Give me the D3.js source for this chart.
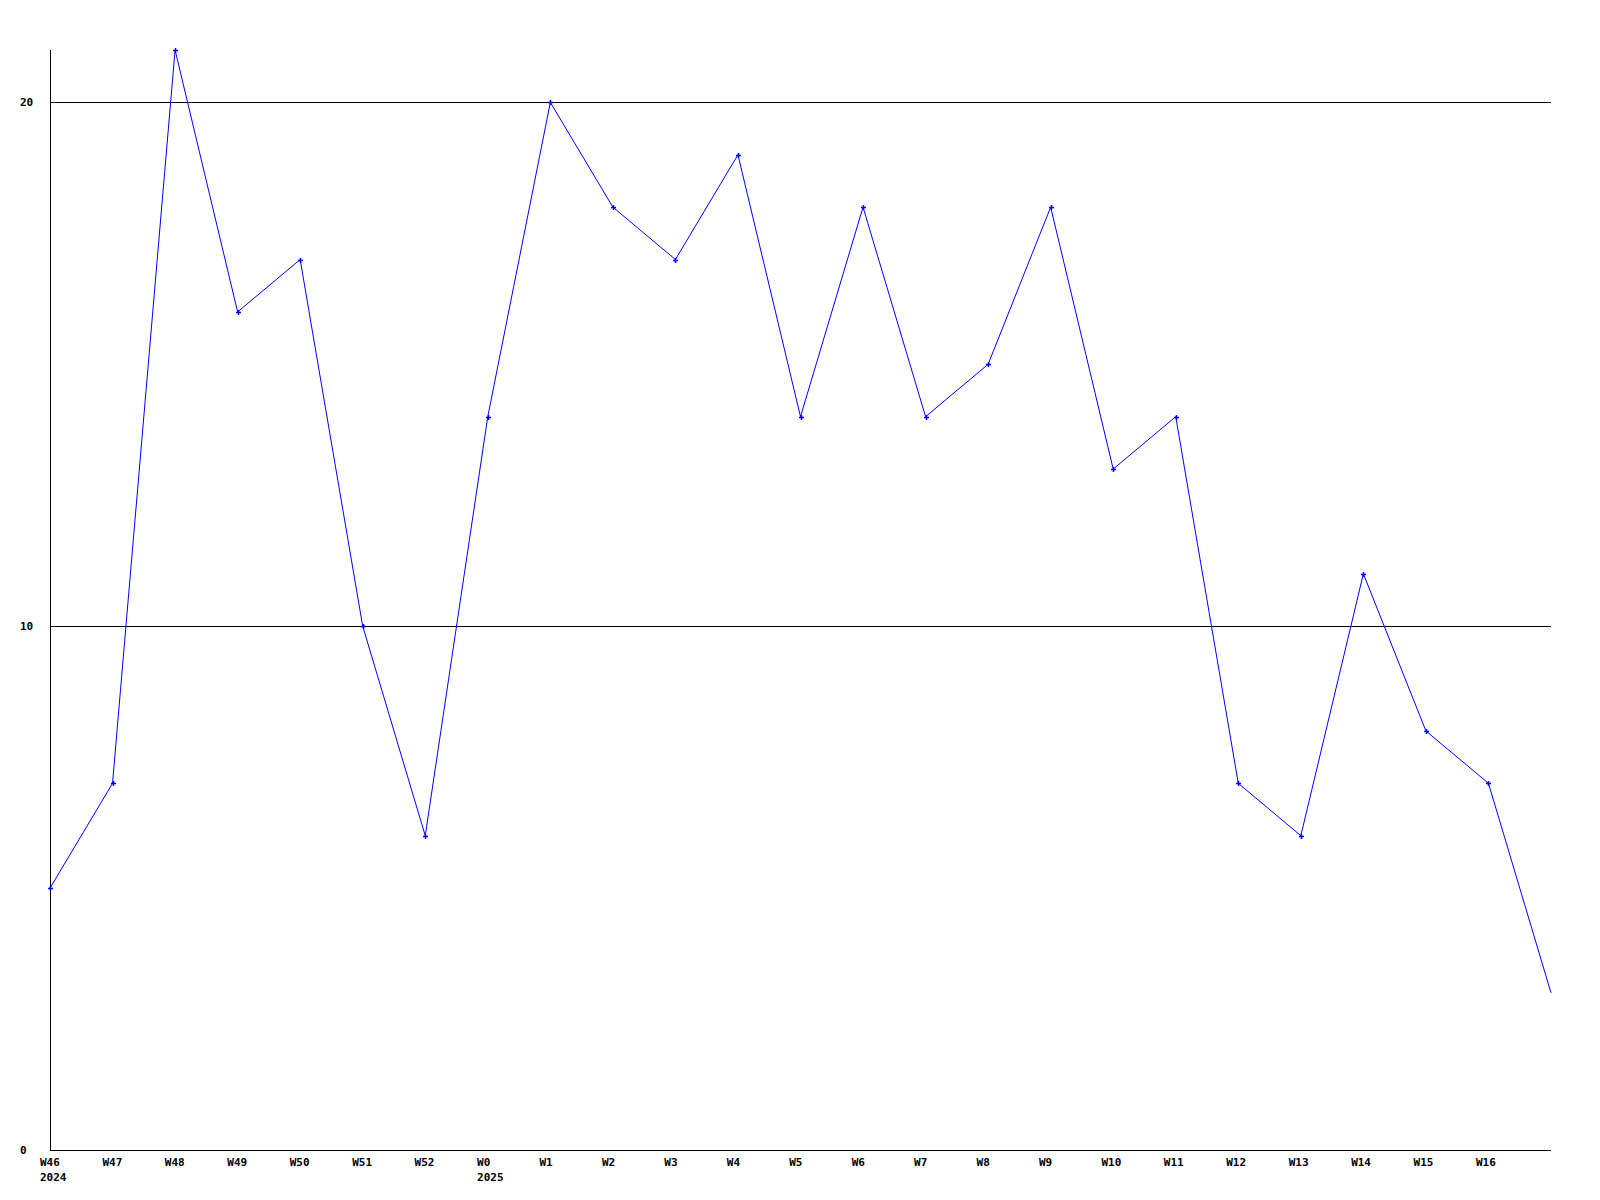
<!DOCTYPE html>
<html><head><meta charset="utf-8">
<script src="https://cdn.jsdelivr.net/npm/d3@7"></script>
<style>body{margin:0;background:#fff}svg{display:block}text{font-family:"DejaVu Sans Mono",monospace;font-weight:bold;font-size:11px;fill:#000}</style>
</head><body>
<script>
const weeks = ["W46","W47","W48","W49","W50","W51","W52","W0","W1","W2","W3","W4","W5","W6","W7","W8","W9","W10","W11","W12","W13","W14","W15","W16",""];
const years = {"W46":"2024","W0":"2025"};
const values = [5,7,21,16,17,10,6,14,20,18,17,19,14,18,14,15,18,13,14,7,6,11,8,7,3];
const yTicks = [0,10,20];

const W=1600,H=1200, L=50, R=1551, T=50, B=1150;
const svg=d3.select("body").append("svg").attr("width",W).attr("height",H);
const x=d3.scalePoint().domain(d3.range(values.length)).range([L,R]);
const xl=d3.scaleLinear().domain([0,23]).range([40,1476]);
const y=d3.scaleLinear().domain([0,21]).range([B,T]);

svg.selectAll(".grid").data(yTicks.filter(d=>d>0)).enter().append("line")
  .attr("x1",L).attr("x2",R).attr("y1",d=>Math.round(y(d))+0.5).attr("y2",d=>Math.round(y(d))+0.5)
  .attr("stroke","#000").attr("stroke-width",1);
svg.append("line").attr("x1",L+0.5).attr("x2",L+0.5).attr("y1",T).attr("y2",B).attr("stroke","#000");
svg.append("line").attr("x1",L).attr("x2",R).attr("y1",B+0.5).attr("y2",B+0.5).attr("stroke","#000");
svg.selectAll(".yl").data(yTicks).enter().append("text")
  .attr("x",20).attr("y",d=>y(d)+4).text(d=>d);
weeks.forEach((w,i)=>{
  if(!w) return;
  svg.append("text").attr("x",xl(i)).attr("y",1166).text(w);
  if(years[w]) svg.append("text").attr("x",xl(i)).attr("y",1181).text(years[w]);
});
svg.append("path").datum(values)
  .attr("d",d3.line().x((d,i)=>x(i)).y(d=>y(d)))
  .attr("fill","none").attr("stroke","#0000ff").attr("stroke-width",1);
const mk=svg.selectAll(".m").data(values.slice(0,values.length-1)).enter().append("g")
  .attr("transform",(d,i)=>`translate(${Math.round(x(i))+0.5},${Math.round(y(d))+0.5})`);
mk.append("line").attr("x1",-2.5).attr("x2",2.5).attr("y1",0).attr("y2",0).attr("stroke","#0000ff").attr("stroke-width",1.5);
mk.append("line").attr("x1",0).attr("x2",0).attr("y1",-2.5).attr("y2",2.5).attr("stroke","#0000ff").attr("stroke-width",1.5);
</script>
</body></html>
